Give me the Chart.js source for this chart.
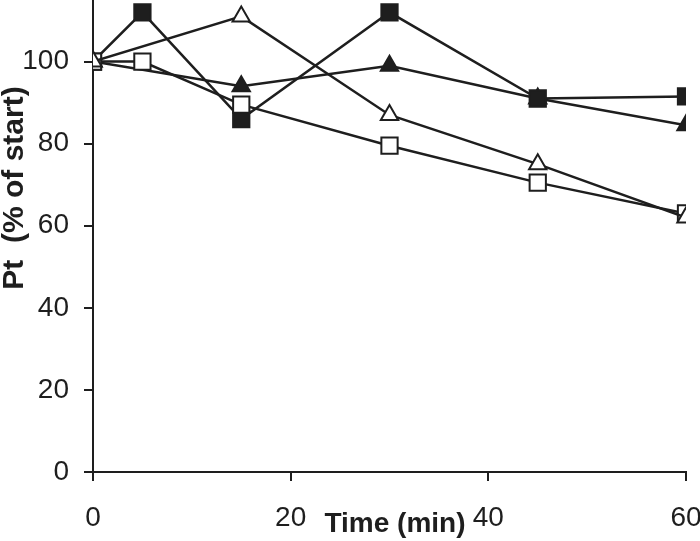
<!DOCTYPE html>
<html>
<head>
<meta charset="utf-8">
<script src="https://cdn.jsdelivr.net/npm/chart.js@4/dist/chart.umd.min.js"></script>
<style>
  html, body { margin: 0; padding: 0; background: #fff; }
  canvas { display: block; }
</style>
</head>
<body>
<canvas id="chart" width="700" height="541"></canvas>
<script>
// time points (min)
const times = [0, 5, 15, 30, 45, 60];

// Pt (% of start), null = not measured
const filledSquares = [100, 112, 86, 112, 91, 91.5];
const openSquares = [100, 100, 89.5, 79.5, 70.5, 63];
const openTriangles = [100, null, 111, 87, 75, 62];
const filledTriangles = [100, null, 94, 99, 91, 84.5];

const xTicks = [0, 20, 40, 60];
const yTicks = [0, 20, 40, 60, 80, 100];

const ink = '#1e1e1e';
const font = '"Liberation Sans", Arial, sans-serif';

const toPoints = vals => times.map((t, i) => ({ x: t, y: vals[i] }));

const series = (vals, style, fill, radius, order) => ({
    data: toPoints(vals),
    borderColor: ink,
    borderWidth: 2.5,
    pointStyle: style,
    pointRadius: radius,
    pointHoverRadius: radius,
    pointBorderWidth: 2,
    pointBorderColor: ink,
    pointBackgroundColor: fill ? ink : '#fff',
    spanGaps: true,
    tension: 0,
    order: order
});

// no extra room for overhanging labels: keep the plot box fixed
const noPad = s => {
    s.paddingTop = 0;
    s.paddingBottom = 0;
    s.paddingLeft = 0;
    s.paddingRight = 0;
};

const titles = {
    id: 'axisTitles',
    afterDraw(chart) {
        const ctx = chart.ctx;
        ctx.save();
        ctx.fillStyle = ink;
        ctx.textAlign = 'center';
        ctx.textBaseline = 'middle';
        ctx.font = 'bold 28px ' + font;
        ctx.fillText('Time (min)', 395, 524);
        ctx.font = 'bold 30px ' + font;
        ctx.translate(15, 188);
        ctx.rotate(-Math.PI / 2);
        ctx.fillText('Pt  (% of start)', 0, 0);
        ctx.restore();
    }
};

new Chart(document.getElementById('chart'), {
    type: 'line',
    data: {
        datasets: [
            series(filledSquares, 'rect', true, 11.5, 2),
            series(openSquares, 'rect', false, 11.5, 1),
            series(openTriangles, 'triangle', false, 10, 0),
            series(filledTriangles, 'triangle', true, 10, 3)
        ]
    },
    options: {
        responsive: false,
        devicePixelRatio: 1,
        animation: false,
        layout: { autoPadding: false, padding: { top: 0, right: 14, bottom: 0, left: 0 } },
        plugins: { legend: { display: false }, tooltip: { enabled: false } },
        elements: { line: { borderJoinStyle: 'miter' } },
        scales: {
            x: {
                type: 'linear',
                min: 0,
                max: 60,
                afterBuildTicks: s => { s.ticks = xTicks.map(v => ({ value: v })); },
                afterFit: s => { s.height = 69; noPad(s); },
                grid: { drawOnChartArea: false, tickLength: 9, color: ink, lineWidth: 2 },
                border: { color: ink, width: 2 },
                ticks: {
                    padding: 20,
                    color: ink,
                    maxRotation: 0,
                    font: { family: font, size: 28 }
                }
            },
            y: {
                min: 0,
                max: 115,
                afterBuildTicks: s => { s.ticks = yTicks.map(v => ({ value: v })); },
                afterFit: s => { s.width = 93; noPad(s); },
                grid: { drawOnChartArea: false, tickLength: 9, color: ink, lineWidth: 2 },
                border: { color: ink, width: 2 },
                ticks: {
                    padding: 15,
                    color: ink,
                    font: { family: font, size: 28 }
                }
            }
        }
    },
    plugins: [titles]
});
</script>
</body>
</html>
